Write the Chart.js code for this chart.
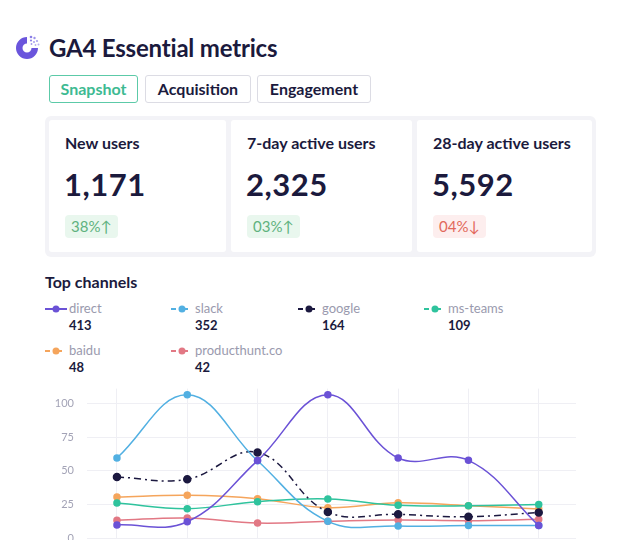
<!DOCTYPE html>
<html>
<head>
<meta charset="utf-8">
<script src="https://cdn.jsdelivr.net/npm/chart.js@4"></script>
<style>
  html, body { margin: 0; padding: 0; background: #fff; overflow: hidden; }
  body { width: 640px; height: 540px; position: relative; font-family: Lato, "Noto Sans", sans-serif; color: #1b1a3d; }
  .abs { position: absolute; }
  .title { left: 49px; top: 33px; font-size: 24px; font-weight: 700; letter-spacing: -0.2px; }
  .tab { top: 75px; height: 26px; border: 1px solid #dcdce4; border-radius: 3px; font-size: 16px; font-weight: 700;
         line-height: 26px; text-align: center; box-sizing: content-box; }
  .tab.on { border-color: #5ccaa8; color: #3dba92; }
  .panel { left: 45px; top: 116px; width: 551px; height: 141px; background: #f3f3f7; border-radius: 6px; }
  .card { top: 120px; height: 132px; background: #fff; border-radius: 3px; }
  .card .lbl { position: absolute; left: 16px; top: 13px; font-size: 16px; font-weight: 700; }
  .card .num { position: absolute; left: 15px; top: 45px; font-size: 31px; font-weight: 700; letter-spacing: 0.5px; }
  .card .badge { position: absolute; left: 16px; top: 95px; height: 23px; line-height: 23px; padding: 0 6px;
                 border-radius: 4px; font-size: 15px; }
  .up { background: #e9f7ee; color: #5fb27e; }
  .down { background: #fdeeee; color: #e2685b; }
  .h2 { left: 45px; top: 272px; font-size: 16px; font-weight: 700; }
  .leg { font-size: 13px; }
  .leg .name { position: absolute; left: 24px; top: 0; color: #9a9aae; white-space: nowrap; }
  .leg .val { position: absolute; left: 24px; top: 17px; font-weight: 700; }
  .leg svg { position: absolute; left: 0; top: 4px; }
  #wrap { left: 40px; top: 369px; width: 560px; height: 211px; }
</style>
</head>
<body>
<svg class="abs" style="left:13px;top:34px" width="28" height="28" viewBox="0 0 28 28">
  <path d="M14 3 A11 11 0 1 0 25 14 L18.5 14 A4.5 4.5 0 1 1 14 9.5 Z" fill="#6a55dc"/>
  <circle cx="18" cy="3" r="1.3" fill="#8a7ee6"/><circle cx="21.5" cy="4" r="1.2" fill="#9d93ea"/>
  <circle cx="24" cy="7" r="1.1" fill="#aaa2ee"/><circle cx="25.5" cy="10.5" r="1" fill="#b8b1f0"/>
  <circle cx="18" cy="6.5" r="1.1" fill="#8f83e8"/><circle cx="21" cy="8" r="1" fill="#a79ded"/>
  <circle cx="22.5" cy="11" r="0.9" fill="#b6aff0"/><circle cx="18.5" cy="10" r="0.9" fill="#a097ec"/>
</svg>
<div class="abs title">GA4 Essential metrics</div>
<div class="abs tab on" style="left:49px;width:87px">Snapshot</div>
<div class="abs tab" style="left:145px;width:104px">Acquisition</div>
<div class="abs tab" style="left:257px;width:112px">Engagement</div>

<div class="abs panel"></div>
<div id="cards"></div>

<div class="abs h2">Top channels</div>
<div id="legend"></div>

<div class="abs" id="wrap"><canvas id="myChart"></canvas></div>

<script>
// metric cards
const metricNames = ['New users', '7-day active users', '28-day active users'];
const metricValues = ['1,171', '2,325', '5,592'];
const metricChange = ['38%', '03%', '04%'];
const metricUp = [true, true, false];

// line chart data
const weeks = ['1', '2', '3', '4', '5', '6', '7'];
const channels = ['direct', 'slack', 'google', 'ms-teams', 'baidu', 'producthunt.co'];
const totals = [413, 352, 164, 109, 48, 42];
const direct = [9.7, 12.1, 57.5, 106.4, 59.4, 57.7, 9.2];
const slack = [59.4, 106.4, 57.4, 12.4, 8.9, 9.2, 9.2];
const google = [45.3, 43.6, 63.6, 19.3, 17.6, 15.8, 19.0];
const msTeams = [26.0, 21.8, 27.0, 29.0, 24.3, 24.0, 24.8];
const baidu = [30.4, 31.7, 29.2, 22.5, 26.2, 24.0, 21.5];
const producthunt = [13.1, 14.9, 11.1, 12.4, 13.4, 12.9, 13.9];
const yTicks = [0, 25, 50, 75, 100];

const series = [direct, slack, google, msTeams, baidu, producthunt];
const colors = ['#6b52d6', '#52b0e2', '#1c1940', '#2fc39d', '#f5a55c', '#e27884'];

// cards
const cardLeft = [49, 231, 417];
const cardWidth = [177, 181, 175];
let html = '';
metricNames.forEach((n, i) => {
  html += '<div class="abs card" style="left:' + cardLeft[i] + 'px;width:' + cardWidth[i] + 'px">' +
    '<div class="lbl">' + n + '</div><div class="num">' + metricValues[i] + '</div>' +
    '<div class="badge ' + (metricUp[i] ? 'up' : 'down') + '">' + metricChange[i] + (metricUp[i] ? '↑' : '↓') + '</div></div>';
});
document.getElementById('cards').innerHTML = html;

// legend
const legX = [45, 171, 298, 424];
let leg = '';
channels.forEach((c, i) => {
  const x = legX[i % 4];
  const y = 300 + Math.floor(i / 4) * 42;
  const dash = i === 0 ? '' : ' stroke-dasharray="5 7 5"';
  leg += '<div class="abs leg" style="left:' + x + 'px;top:' + y + 'px">' +
    '<svg width="22" height="10"><line x1="0" y1="5" x2="22" y2="5" stroke="' + colors[i] + '" stroke-width="2"' + dash + '/>' +
    '<circle cx="11" cy="5" r="3.5" fill="' + colors[i] + '"/></svg>' +
    '<div class="name">' + c + '</div><div class="val">' + totals[i] + '</div></div>';
});
document.getElementById('legend').innerHTML = leg;

// chart
const ctx = document.getElementById('myChart');
new Chart(ctx, {
  type: 'line',
  data: {
    datasets: series.map((s, i) => ({
      label: channels[i],
      data: s.map((v, j) => ({ x: j, y: v })),
      borderColor: colors[i],
      backgroundColor: colors[i],
      pointBackgroundColor: colors[i],
      pointBorderColor: colors[i],
      pointRadius: i === 2 ? 3.5 : 3,
      borderWidth: 1.5,
      borderDash: i === 2 ? [7, 4, 2, 4] : [],
      tension: 0.4,
      fill: false
    }))
  },
  options: {
    responsive: true,
    maintainAspectRatio: false,
    animation: false,
    layout: { padding: { top: 8, right: 24, bottom: 42, left: 0 } },
    plugins: { legend: { display: false }, tooltip: { enabled: false } },
    scales: {
      x: {
        type: 'linear',
        min: -0.426,
        max: 6.53,
        afterBuildTicks: (scale) => { scale.ticks = weeks.map((w, i) => ({ value: i })); },
        ticks: { display: false },
        grid: { color: '#efeff4', drawTicks: false },
        border: { display: false }
      },
      y: {
        min: 0,
        max: 111,
        afterBuildTicks: (scale) => { scale.ticks = yTicks.map(v => ({ value: v })); },
        afterFit: (scale) => { scale.width = 47; },
        ticks: { color: '#a3a3b6', font: { family: 'Lato', size: 11 }, padding: 13 },
        grid: { color: '#efeff4', drawTicks: false },
        border: { display: false }
      }
    }
  }
});
</script>
</body>
</html>
